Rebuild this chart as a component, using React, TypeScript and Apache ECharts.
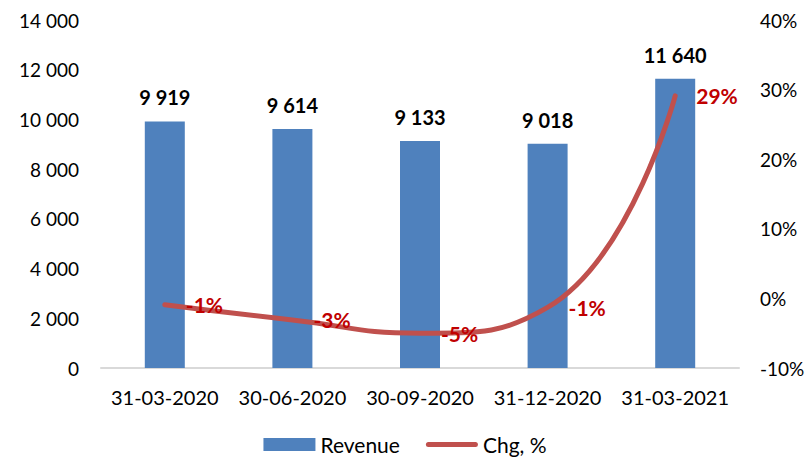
import React, { useEffect, useRef } from "react";
import * as echarts from "echarts";

const categories = ["31-03-2020", "30-06-2020", "30-09-2020", "31-12-2020", "31-03-2021"];
const revenue = [9919, 9614, 9133, 9018, 11640];
const chgPct = [-0.9, -3.1, -5.0, -1.3, 29.1];
const chgLabels = ["-1%", "-3%", "-5%", "-1%", "29%"];

const FONT = "Lato, 'Open Sans', sans-serif";

function fmtThousands(v: number): string {
  return String(Math.round(v)).replace(/\B(?=(\d{3})+(?!\d))/g, " ");
}

export default function App() {
  const ref = useRef<HTMLDivElement>(null);
  useEffect(() => {
    if (!ref.current) return;
    const chart = echarts.init(ref.current, undefined, { renderer: "svg" });
    chart.setOption({
      animation: false,
      textStyle: { fontFamily: FONT },
      grid: { left: 101, right: 71, top: 20, bottom: 93, containLabel: false },
      legend: {
        bottom: 1,
        left: "center",
        itemWidth: 52,
        itemHeight: 13,
        itemGap: 26,
        textStyle: { fontFamily: FONT, fontSize: 21, color: "#000" },
        data: [
          { name: "Revenue", icon: "rect" },
          { name: "Chg, %", icon: "path://M2.5,0 L49.5,0 A2.5,2.5 0 0 1 49.5,5 L2.5,5 A2.5,2.5 0 0 1 2.5,0 Z" },
        ],
      },
      xAxis: {
        type: "category",
        data: categories,
        axisLine: { lineStyle: { color: "#d9d9d9", width: 2 } },
        axisTick: { show: false },
        axisLabel: { color: "#000", fontSize: 20, fontFamily: FONT, margin: 19, interval: 0 },
      },
      yAxis: [
        {
          type: "value",
          min: 0,
          max: 14000,
          interval: 2000,
          splitLine: { show: false },
          axisLine: { show: false },
          axisTick: { show: false },
          axisLabel: {
            color: "#000",
            fontSize: 19,
            fontFamily: FONT,
            margin: 22,
            formatter: (v: number) => fmtThousands(v),
          },
        },
        {
          type: "value",
          min: -10,
          max: 40,
          interval: 10,
          position: "right",
          splitLine: { show: false },
          axisLine: { show: false },
          axisTick: { show: false },
          axisLabel: {
            color: "#000",
            fontSize: 19,
            fontFamily: FONT,
            margin: 21,
            formatter: (v: number) => v + "%",
          },
        },
      ],
      series: [
        {
          name: "Revenue",
          type: "bar",
          data: revenue,
          barWidth: 40,
          itemStyle: { color: "#4f81bd" },
          label: {
            show: true,
            position: "top",
            distance: 14,
            color: "#000",
            fontWeight: "bold",
            fontSize: 20,
            fontFamily: FONT,
            formatter: (p: any) => fmtThousands(p.value),
          },
        },
        {
          name: "Chg, %",
          type: "line",
          yAxisIndex: 1,
          data: chgPct,
          smooth: 0.5,
          symbol: "circle",
          symbolSize: 0.01,
          showSymbol: true,
          lineStyle: { color: "#c0504d", width: 5, cap: "round" },
          itemStyle: { color: "#c0504d" },
          label: {
            show: true,
            position: "right",
            distance: 21,
            color: "#c00000",
            fontWeight: "bold",
            fontSize: 21,
            fontFamily: FONT,
            formatter: (p: any) => chgLabels[p.dataIndex],
          },
        },
      ],
    });
    return () => chart.dispose();
  }, []);
  return (
    <div
      ref={ref}
      style={{ position: "fixed", left: 0, top: 0, width: 810, height: 461, background: "#fff" }}
    />
  );
}
